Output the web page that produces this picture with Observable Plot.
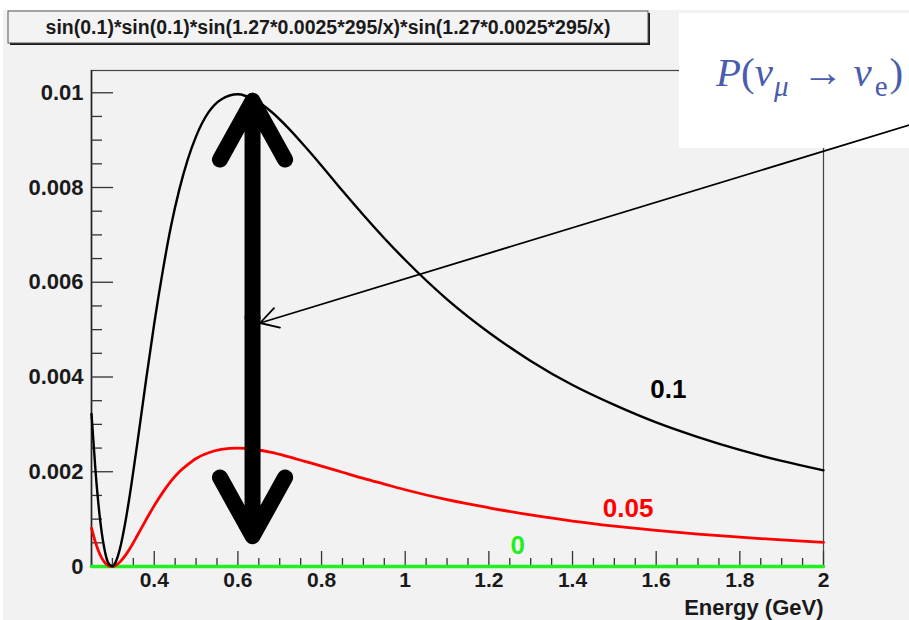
<!DOCTYPE html>
<html>
<head>
<meta charset="utf-8">
<script src="https://cdn.jsdelivr.net/npm/d3@7"></script>
<script src="https://cdn.jsdelivr.net/npm/@observablehq/plot@0.6"></script>
<style>
  html, body { margin: 0; padding: 0; background: #ffffff; }
  #chart svg { display: block; }
</style>
</head>
<body>
<div id="chart"></div>
<script>
// ---- data ----
const energy = [0.25, 0.26, 0.27, 0.28, 0.29, 0.30, 0.31, 0.32, 0.33, 0.34, 0.36, 0.38, 0.40, 0.42, 0.44, 0.46, 0.48, 0.50, 0.53, 0.56, 0.60, 0.64, 0.68, 0.72, 0.76, 0.80, 0.85, 0.90, 0.95, 1.0, 1.1, 1.2, 1.3, 1.4, 1.5, 1.6, 1.7, 1.8, 1.9, 2.0];
const prob01 = [0.00322, 0.00197, 0.00103, 0.00041, 0.000077, 0.000004, 0.000143, 0.00045, 0.00089, 0.00142, 0.00263, 0.00391, 0.00513, 0.00622, 0.00718, 0.00796, 0.00859, 0.00908, 0.00959, 0.00986, 0.00997, 0.00985, 0.00960, 0.00926, 0.00887, 0.00846, 0.00793, 0.00742, 0.00693, 0.00647, 0.00564, 0.00494, 0.00434, 0.00383, 0.00341, 0.00304, 0.00273, 0.00246, 0.00223, 0.00203];
const prob005 = [0.000808, 0.000494, 0.000258, 0.000102, 0.000019, 0.000001, 0.000036, 0.000113, 0.000223, 0.000355, 0.00066, 0.00098, 0.001285, 0.00156, 0.0018, 0.002, 0.00215, 0.00228, 0.0024, 0.00247, 0.0025, 0.00247, 0.00241, 0.00232, 0.00222, 0.00212, 0.00199, 0.00186, 0.00174, 0.00162, 0.00141, 0.00124, 0.00109, 0.00096, 0.000854, 0.000763, 0.000685, 0.000618, 0.00056, 0.000509];
const prob0 = [0, 0, 0, 0, 0, 0, 0, 0, 0, 0, 0, 0, 0, 0, 0, 0, 0, 0, 0, 0, 0, 0, 0, 0, 0, 0, 0, 0, 0, 0, 0, 0, 0, 0, 0, 0, 0, 0, 0, 0];

const curveNames = ["0.1", "0.05", "0"];
const curveColors = ["#000000", "#ff0000", "#22ee22"];
const labelEnergy = [1.629, 1.533, 1.269];
const labelProb = [0.00373, 0.00123, 0.00044];

const xTicks = [0.4, 0.6, 0.8, 1, 1.2, 1.4, 1.6, 1.8, 2];
const xTickLabels = ["0.4", "0.6", "0.8", "1", "1.2", "1.4", "1.6", "1.8", "2"];
const xMinorTicks = [0.25, 0.3, 0.35, 0.45, 0.5, 0.55, 0.65, 0.7, 0.75, 0.85, 0.9, 0.95, 1.05, 1.1, 1.15, 1.25, 1.3, 1.35, 1.45, 1.5, 1.55, 1.65, 1.7, 1.75, 1.85, 1.9, 1.95];
const yTicks = [0, 0.002, 0.004, 0.006, 0.008, 0.01];
const yTickLabels = ["0", "0.002", "0.004", "0.006", "0.008", "0.01"];
const yMinorTicks = [0.0005, 0.001, 0.0015, 0.0025, 0.003, 0.0035, 0.0045, 0.005, 0.0055, 0.0065, 0.007, 0.0075, 0.0085, 0.009, 0.0095];

const titleText = "sin(0.1)*sin(0.1)*sin(1.27*0.0025*295/x)*sin(1.27*0.0025*295/x)";
const xLabel = "Energy (GeV)";

// annotation arrows, in data coordinates (energy, probability)
const bigArrowEnergy = 0.635;
const bigArrowMid = 0.00525;
const bigArrowTop = 0.00983;
const bigArrowBottom = 0.00064;
const pointerFrom = [2.206, 0.00932];
const pointerTo = [0.653, 0.00514];

// ---- layout ----
const W = 909, H = 620;
const mL = 91, mR = 86, mT = 70, mB = 54;
const innerW = W - mL - mR, innerH = H - mT - mB;
const sans = "'Liberation Sans', Arial, Helvetica, sans-serif";

const rows = energy.flatMap((e, i) => [
  {energy: e, p: prob01[i], curve: curveNames[0]},
  {energy: e, p: prob005[i], curve: curveNames[1]},
  {energy: e, p: prob0[i], curve: curveNames[2]}
]);
const labels = curveNames.map((n, i) => ({name: n, energy: labelEnergy[i], p: labelProb[i], color: curveColors[i]}));
const bigArrows = [
  {x1: bigArrowEnergy, y1: bigArrowMid, x2: bigArrowEnergy, y2: bigArrowTop},
  {x1: bigArrowEnergy, y1: bigArrowMid, x2: bigArrowEnergy, y2: bigArrowBottom}
];
const pointer = [{x1: pointerFrom[0], y1: pointerFrom[1], x2: pointerTo[0], y2: pointerTo[1]}];

const backgroundMark = () => {
  const g = d3.create("svg:g");
  g.append("rect").attr("x", 3).attr("y", 10).attr("width", W - 3).attr("height", H - 10).attr("fill", "#f2f2f2");
  return g.node();
};

const titleMark = () => {
  const g = d3.create("svg:g");
  g.append("rect").attr("x", 10).attr("y", 13).attr("width", 640).attr("height", 32).attr("fill", "#1a1a1a");
  g.append("rect").attr("x", 8).attr("y", 11).attr("width", 640).attr("height", 32)
    .attr("fill", "#f3f3f3").attr("stroke", "#555").attr("stroke-width", 1);
  g.append("text").attr("x", 328).attr("y", 34).attr("text-anchor", "middle")
    .attr("font-family", sans).attr("font-weight", "bold").attr("font-size", 19.5)
    .attr("fill", "#1a1a1a").text(titleText);
  return g.node();
};

const formulaMark = () => {
  const g = d3.create("svg:g");
  g.append("rect").attr("x", 679).attr("y", 13).attr("width", 240).attr("height", 135).attr("fill", "#ffffff");
  const t = g.append("text").attr("x", 716).attr("y", 86).attr("fill", "#4b5cad").attr("text-anchor", "start")
    .attr("font-family", "'Liberation Serif', 'DejaVu Serif', serif").attr("font-size", 41);
  t.append("tspan").attr("font-style", "italic").text("P");
  t.append("tspan").text("(");
  t.append("tspan").attr("font-style", "italic").text("ν");
  t.append("tspan").attr("font-style", "italic").attr("font-size", 29).attr("dy", 10).attr("dx", 1).text("μ");
  t.append("tspan").attr("dy", -10).attr("dx", 14).text("→");
  t.append("tspan").attr("dx", 10).attr("font-style", "italic").text("ν");
  t.append("tspan").attr("font-size", 29).attr("dy", 10).attr("dx", 3).text("e");
  t.append("tspan").attr("dy", -10).attr("dx", 2).text(")");
  return g.node();
};

const chart = Plot.plot({
  width: W,
  height: H,
  marginLeft: mL,
  marginRight: mR,
  marginTop: mT,
  marginBottom: mB,
  style: {fontFamily: sans, background: "#ffffff", overflow: "visible"},
  x: {type: "linear", domain: [0.25, 2]},
  y: {type: "linear", domain: [0, 0.01047]},
  color: {domain: curveNames, range: curveColors},
  marks: [
    backgroundMark,
    titleMark,
    Plot.frame({stroke: "#444", strokeWidth: 1.2}),
    Plot.ruleX([0.25], {stroke: "#222", strokeWidth: 1.6}),
    // ticks drawn inside the frame
    Plot.tickY(yTicks, {y: d => d, insetRight: innerW - 22, stroke: "#333", strokeWidth: 1.3}),
    Plot.tickY(yMinorTicks, {y: d => d, insetRight: innerW - 11, stroke: "#333", strokeWidth: 1.3}),
    Plot.tickX(xTicks, {x: d => d, insetTop: innerH - 15, stroke: "#333", strokeWidth: 1.3}),
    Plot.tickX(xMinorTicks, {x: d => d, insetTop: innerH - 8, stroke: "#333", strokeWidth: 1.3}),
    Plot.axisY({ticks: yTicks, tickSize: 0, tickPadding: 8, label: null,
      tickFormat: (d, i) => yTickLabels[i], fontSize: 22, fontWeight: "bold", fill: "#1a1a1a"}),
    Plot.axisX({ticks: xTicks, tickSize: 0, tickPadding: 6, label: null,
      tickFormat: (d, i) => xTickLabels[i], fontSize: 21, fontWeight: "bold", fill: "#1a1a1a"}),
    // curves
    Plot.line(rows.filter(d => d.curve === curveNames[2]), {x: "energy", y: "p", stroke: curveColors[2], strokeWidth: 3.5}),
    Plot.line(rows.filter(d => d.curve === curveNames[1]), {x: "energy", y: "p", stroke: curveColors[1], strokeWidth: 2.8, curve: "monotone-x"}),
    Plot.line(rows.filter(d => d.curve === curveNames[0]), {x: "energy", y: "p", stroke: curveColors[0], strokeWidth: 2.4, curve: "monotone-x"}),
    Plot.text(labels, {x: "energy", y: "p", text: "name", fill: "color", fontSize: 26, fontWeight: "bold", textAnchor: "middle", lineAnchor: "middle"}),
    // thick double arrow
    Plot.arrow(bigArrows, {x1: "x1", y1: "y1", x2: "x2", y2: "y2", stroke: "#000", strokeWidth: 16,
      headLength: 6.3, headAngle: 58, strokeLinecap: "round", strokeLinejoin: "round"}),
    formulaMark,
    // thin pointer arrow
    Plot.arrow(pointer, {x1: "x1", y1: "y1", x2: "x2", y2: "y2", stroke: "#000", strokeWidth: 1.8,
      headLength: 17, headAngle: 60}),
    Plot.text([xLabel], {text: d => d, frameAnchor: "bottom-right", dy: 48, textAnchor: "end", lineAnchor: "bottom",
      fontSize: 22, fontWeight: "bold", fill: "#1a1a1a"})
  ]
});

document.getElementById("chart").appendChild(chart);
</script>
</body>
</html>
